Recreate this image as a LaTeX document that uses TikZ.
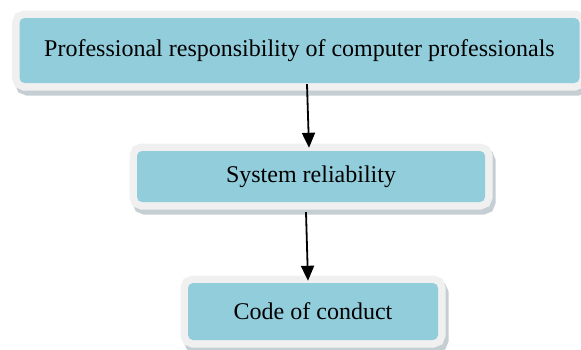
\documentclass[tikz,border=0pt]{standalone}
\usepackage{fontspec}
\setmainfont{Liberation Serif}
\usetikzlibrary{arrows.meta}
\definecolor{boxblue}{HTML}{92CDDC}
\definecolor{framegray}{HTML}{F0F0F0}
\definecolor{shadowgray}{HTML}{C5CED3}
\tikzset{
  stagebox/.style={
    rectangle, rounded corners=5pt, inner sep=0pt,
    fill=boxblue,
    font=\fontsize{24}{28}\selectfont,
    preaction={draw=shadowgray, fill=shadowgray, line width=15pt, rounded corners=5pt, transform canvas={shift={(3pt,-5pt)}}},
    preaction={draw=framegray, line width=15pt, rounded corners=5pt}
  },
  flowarrow/.style={line width=1.8pt, -{Triangle[width=13pt,length=15pt]}}
}
\begin{document}
\begin{tikzpicture}[x=1pt,y=-1pt]
\useasboundingbox (0,0) rectangle (581,349);
\clip (0,0) rectangle (581,349);
\node[stagebox, minimum width=560pt, minimum height=65pt] (b1) at (299.5,50.5) {Professional responsibility of computer professionals};
\node[stagebox, minimum width=348pt, minimum height=51pt] (b2) at (311,176.5) {System reliability};
\node[stagebox, minimum width=250pt, minimum height=57pt] (b3) at (313,311.5) {Code of conduct};
\draw[flowarrow] ([xshift=7.5pt,yshift=-1pt]b1.south) -- ([xshift=-2pt,yshift=3pt]b2.north);
\draw[flowarrow] ([xshift=-5pt,yshift=-10pt]b2.south) -- ([xshift=-5pt,yshift=2pt]b3.north);
\end{tikzpicture}
\end{document}
